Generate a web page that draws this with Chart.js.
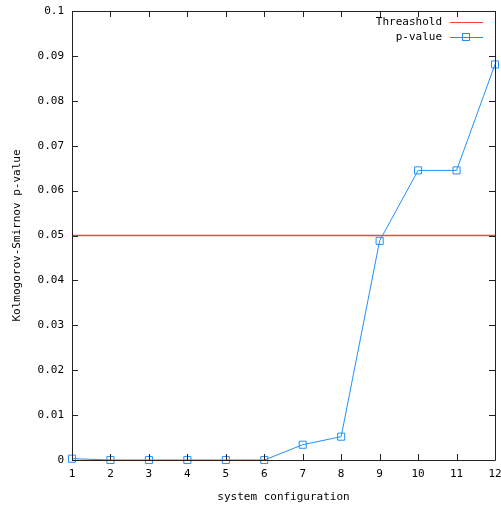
<!DOCTYPE html>
<html>
<head>
<meta charset="utf-8">
<script src="https://cdn.jsdelivr.net/npm/chart.js@4.4.1/dist/chart.umd.min.js"></script>
<style>
  body { margin: 0; background: #fff; }
  #wrap { width: 501px; height: 509px; }
</style>
</head>
<body>
<div id="wrap"><canvas id="ksChart"></canvas></div>
<script>
var configs = [1, 2, 3, 4, 5, 6, 7, 8, 9, 10, 11, 12];
var pValues = [0.0003, 0, 0, 0, 0, 0, 0.0034, 0.0052, 0.0488, 0.0645, 0.0645, 0.0881];
var thresholdValues = [0.05, 0.05, 0.05, 0.05, 0.05, 0.05, 0.05, 0.05, 0.05, 0.05, 0.05, 0.05];
var xTicks = [1, 2, 3, 4, 5, 6, 7, 8, 9, 10, 11, 12];
var yTicks = [0, 0.01, 0.02, 0.03, 0.04, 0.05, 0.06, 0.07, 0.08, 0.09, 0.1];

var monoFont = { family: "'DejaVu Sans Mono', 'Liberation Mono', monospace", size: 11 };
var blue = '#1e90ff';
var red = '#ff4040';

// gnuplot style box with inward ticks on all four sides
var frame = {
  id: 'frame',
  afterDatasetsDraw: function(chart) {
    var ctx = chart.ctx, a = chart.chartArea;
    var xs = chart.scales.x, ys = chart.scales.y;
    ctx.save();
    ctx.strokeStyle = '#222';
    ctx.lineWidth = 1;
    ctx.beginPath();
    ctx.rect(Math.round(a.left) + 0.5, Math.round(a.top) + 0.5, Math.round(a.right - a.left), Math.round(a.bottom - a.top));
    xTicks.forEach(function(v) {
      var px = Math.round(xs.getPixelForValue(v)) + 0.5;
      ctx.moveTo(px, a.bottom); ctx.lineTo(px, a.bottom - 6);
      ctx.moveTo(px, a.top); ctx.lineTo(px, a.top + 6);
    });
    yTicks.forEach(function(v) {
      var py = Math.round(ys.getPixelForValue(v)) + 0.5;
      ctx.moveTo(a.left, py); ctx.lineTo(a.left + 6, py);
      ctx.moveTo(a.right, py); ctx.lineTo(a.right - 6, py);
    });
    ctx.stroke();
    ctx.restore();
  },
  afterDraw: function(chart) {
    var ctx = chart.ctx;
    ctx.save();
    ctx.font = '11px ' + monoFont.family;
    ctx.fillStyle = '#000';
    ctx.textAlign = 'right';
    ctx.textBaseline = 'middle';
    chart.data.datasets.forEach(function(d, i) {
      var y = 22 + i * 15;
      ctx.fillText(d.label, 442, y);
      ctx.strokeStyle = d.borderColor;
      ctx.lineWidth = 1;
      ctx.beginPath();
      ctx.moveTo(450, y + 0.5); ctx.lineTo(483, y + 0.5);
      ctx.stroke();
      if (d.pointRadius > 0) {
        ctx.strokeRect(462.5, y - 3.5, 7, 7);
      }
    });
    ctx.restore();
  }
};

new Chart(document.getElementById('ksChart'), {
  type: 'line',
  data: {
    datasets: [{
      label: 'Threashold',
      data: configs.map(function(c, i) { return { x: c, y: thresholdValues[i] }; }),
      borderColor: red,
      borderWidth: 1.5,
      pointRadius: 0,
      clip: false
    }, {
      label: 'p-value',
      data: configs.map(function(c, i) { return { x: c, y: pValues[i] }; }),
      borderColor: blue,
      borderWidth: 1,
      pointStyle: 'rect',
      pointRadius: 5,
      pointBorderWidth: 1,
      pointBorderColor: blue,
      pointBackgroundColor: 'rgba(0,0,0,0)',
      clip: false
    }]
  },
  options: {
    responsive: true,
    maintainAspectRatio: false,
    animation: false,
    layout: { padding: { top: 11, right: 5, left: 0, bottom: 0 } },
    plugins: { legend: { display: false }, tooltip: { enabled: false } },
    scales: {
      x: {
        type: 'linear',
        min: 1,
        max: 12,
        grid: { display: false, drawTicks: false },
        border: { display: false },
        afterBuildTicks: function(s) { s.ticks = xTicks.map(function(v) { return { value: v }; }); },
        afterFit: function(s) { s.height = 49; s.paddingLeft = 0; s.paddingRight = 0; },
        ticks: { font: monoFont, color: '#000', padding: 8, maxRotation: 0, autoSkip: false,
          callback: function(v) { return String(v); } },
        title: { display: true, text: 'system configuration', font: monoFont, color: '#000', padding: { top: 0, bottom: 5 } }
      },
      y: {
        min: 0,
        max: 0.1,
        grid: { display: false, drawTicks: false },
        border: { display: false },
        afterBuildTicks: function(s) { s.ticks = yTicks.map(function(v) { return { value: v }; }); },
        afterFit: function(s) { s.width = 72; s.paddingTop = 0; s.paddingBottom = 0; },
        ticks: { font: monoFont, color: '#000', padding: 8,
          callback: function(v) { return String(parseFloat(v.toFixed(2))); } },
        title: { display: true, text: 'Kolmogorov-Smirnov p-value', font: monoFont, color: '#000', padding: { top: 11, bottom: 0 } }
      }
    }
  },
  plugins: [frame]
});
</script>
</body>
</html>
